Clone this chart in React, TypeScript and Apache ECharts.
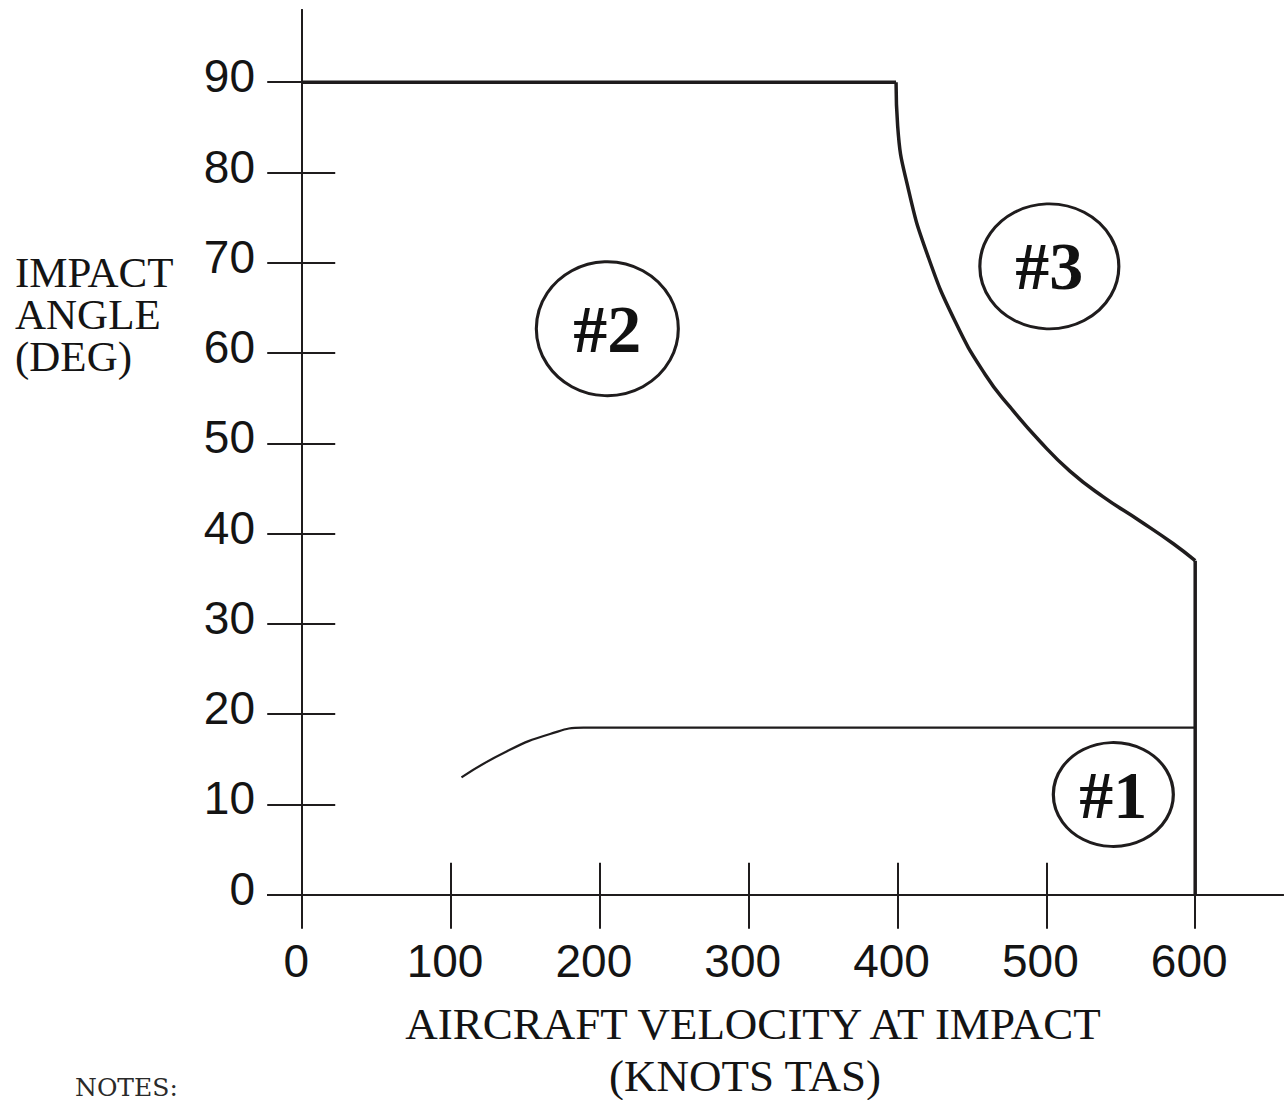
import React, { useEffect, useRef } from "react";
import * as echarts from "echarts";

// ---- tick labels ----
const xTickValues = [0, 100, 200, 300, 400, 500, 600];
const yTickValues = [0, 10, 20, 30, 40, 50, 60, 70, 80, 90];

// ---- boundary between region #2 and region #3 (knots, deg) ----
const boundaryTop: number[][] = [
  [0, 90],
  [399, 90],
];
const boundaryCurve: number[][] = [
  [399, 90],
  [400.1, 85.1],
  [407.5, 78.0],
  [420.3, 70.8],
  [439, 63.4],
  [459, 57.6],
  [475.7, 54.0],
  [495.8, 50.2],
  [516, 46.9],
  [538, 44.1],
  [562.9, 41.4],
  [585.1, 38.9],
  [600, 37],
];
const boundaryRight: number[][] = [
  [600, 37],
  [600, 0],
];

// ---- boundary of region #1 ----
const region1Line: number[][] = [
  [107, 13.0],
  [137.6, 15.9],
  [166.5, 17.8],
  [189, 18.5],
  [600, 18.5],
];

// ---- region labels ----
const regionNames = ["#1", "#2", "#3"];
const regionX = [545, 205, 502];
const regionY = [11.1, 62.7, 69.6];
const regionW = [120, 142, 139];
const regionH = [104, 134, 125];

const INK = "#1f1c1d";

export default function App() {
  const ref = useRef<HTMLDivElement>(null);

  useEffect(() => {
    if (!ref.current) return;
    const chart = echarts.init(ref.current, undefined, { renderer: "svg" });

    const labelFont = "Liberation Sans";
    const serif = "Liberation Serif";

    const xBase = {
      type: "value",
      min: -23,
      max: 659,
      position: "bottom",
      gridIndex: 0,
      splitLine: { show: false },
      axisLine: { show: true, onZero: true, lineStyle: { color: INK, width: 2 } },
    };
    const yBase = {
      type: "value",
      min: -2.8,
      max: 98,
      position: "left",
      gridIndex: 0,
      splitLine: { show: false },
      axisLine: { show: true, onZero: true, lineStyle: { color: INK, width: 2 } },
    };

    const regionData = regionNames.map((n, i) => ({
      name: n,
      value: [regionX[i], regionY[i]],
      symbolSize: [regionW[i], regionH[i]],
    }));

    chart.setOption({
      animation: false,
      backgroundColor: "#ffffff",
      grid: {
        left: 268,
        right: 5,
        top: 10,
        bottom: 180,
        containLabel: false,
        outerBoundsMode: "none",
      },
      xAxis: [
        {
          ...xBase,
          axisTick: {
            show: true,
            inside: false,
            length: 34,
            customValues: xTickValues,
            lineStyle: { color: INK, width: 2 },
          },
          axisLabel: {
            show: true,
            customValues: xTickValues,
            margin: 18,
            formatter: (v: number) => "{a|" + v + "}",
            rich: {
              a: {
                fontSize: 46,
                fontFamily: labelFont,
                color: "#141414",
                padding: [0, 12, 0, 0],
              },
            },
          },
        },
        {
          ...xBase,
          axisTick: {
            show: true,
            inside: true,
            length: 32,
            customValues: xTickValues,
            lineStyle: { color: INK, width: 2 },
          },
          axisLabel: { show: false },
        },
      ],
      yAxis: [
        {
          ...yBase,
          axisTick: {
            show: true,
            inside: false,
            length: 35,
            customValues: yTickValues,
            lineStyle: { color: INK, width: 2 },
          },
          axisLabel: {
            show: true,
            customValues: yTickValues,
            margin: 13,
            formatter: (v: number) => "{a|" + v + "}",
            rich: {
              a: {
                fontSize: 46,
                fontFamily: labelFont,
                color: "#141414",
                padding: [0, 0, 12, 0],
              },
            },
          },
        },
        {
          ...yBase,
          axisTick: {
            show: true,
            inside: true,
            length: 33,
            customValues: yTickValues,
            lineStyle: { color: INK, width: 2 },
          },
          axisLabel: { show: false },
        },
      ],
      series: [
        {
          type: "line",
          data: boundaryTop,
          showSymbol: false,
          lineStyle: { color: INK, width: 3.5 },
          silent: true,
        },
        {
          type: "line",
          data: boundaryCurve,
          showSymbol: false,
          smooth: 0.5,
          lineStyle: { color: INK, width: 3.5 },
          silent: true,
        },
        {
          type: "line",
          data: boundaryRight,
          showSymbol: false,
          lineStyle: { color: INK, width: 3.5 },
          silent: true,
        },
        {
          type: "line",
          data: region1Line,
          showSymbol: false,
          smooth: 0.5,
          lineStyle: { color: INK, width: 2.2 },
          silent: true,
        },
        {
          type: "scatter",
          data: regionData,
          symbol: "circle",
          itemStyle: {
            color: "rgba(255,255,255,0)",
            borderColor: INK,
            borderWidth: 3,
            opacity: 1,
          },
          label: {
            show: true,
            position: "inside",
            formatter: (p: any) => p.name,
            fontSize: 68,
            fontWeight: "bold",
            fontFamily: serif,
            color: "#111111",
          },
          silent: true,
        },
      ],
      graphic: [
        {
          type: "text",
          x: 15,
          y: 314,
          style: {
            text: "IMPACT\nANGLE\n(DEG)",
            fontSize: 43,
            lineHeight: 42,
            fontFamily: serif,
            fill: "#141414",
            align: "left",
            verticalAlign: "middle",
          },
        },
        {
          type: "text",
          x: 753,
          y: 1024,
          style: {
            text: "AIRCRAFT VELOCITY AT IMPACT",
            fontSize: 45,
            fontFamily: serif,
            fill: "#141414",
            align: "center",
            verticalAlign: "middle",
          },
        },
        {
          type: "text",
          x: 745,
          y: 1076,
          style: { text: "(KNOTS TAS)", fontSize: 45, fontFamily: serif, fill: "#141414", align: "center", verticalAlign: "middle" },
        },
        {
          type: "text",
          x: 75,
          y: 1087,
          style: { text: "NOTES:", fontSize: 25, fontFamily: "DejaVu Serif", fill: "#2a2a2a", align: "left", verticalAlign: "middle" },
        },
      ],
    });

    return () => chart.dispose();
  }, []);

  return (
    <div
      ref={ref}
      style={{ position: "absolute", left: 0, top: 0, width: 1288, height: 1100 }}
    />
  );
}
